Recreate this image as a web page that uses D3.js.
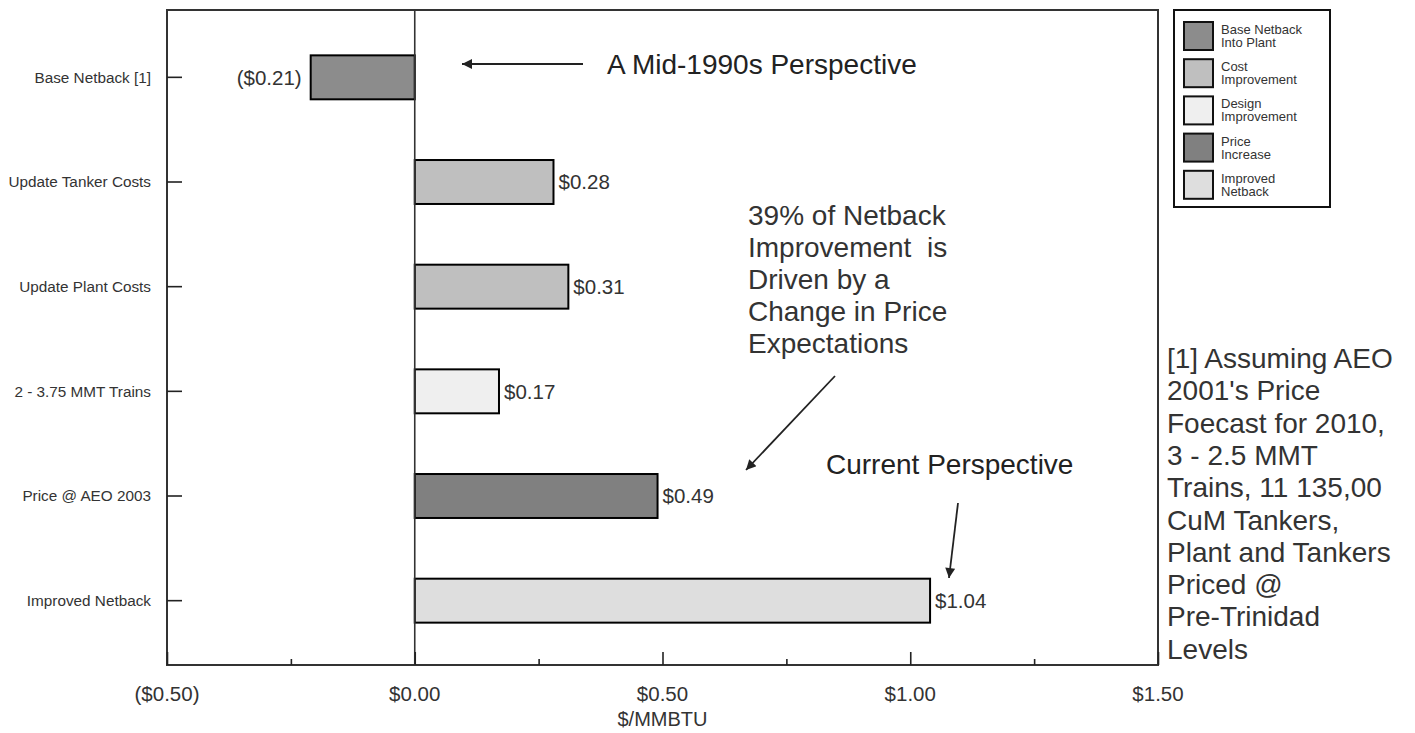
<!DOCTYPE html>
<html>
<head>
<meta charset="utf-8">
<script src="https://cdn.jsdelivr.net/npm/d3@7"></script>
<style>
  html, body { margin: 0; padding: 0; background: #fff; }
  svg { display: block; font-family: "Liberation Sans", Arial, sans-serif; }
</style>
</head>
<body>
<svg id="chart" width="1415" height="733"></svg>
<script>
// ---- data ----
const categories = ["Base Netback [1]", "Update Tanker Costs", "Update Plant Costs", "2 - 3.75 MMT Trains", "Price @ AEO 2003", "Improved Netback"];
const values = [-0.21, 0.28, 0.31, 0.17, 0.49, 1.04];
const valueLabels = ["($0.21)", "$0.28", "$0.31", "$0.17", "$0.49", "$1.04"];
const barGroups = ["Base Netback Into Plant", "Cost Improvement", "Cost Improvement", "Design Improvement", "Price Increase", "Improved Netback"];
const legendKeys = ["Base Netback Into Plant", "Cost Improvement", "Design Improvement", "Price Increase", "Improved Netback"];
const legendLines = [["Base Netback", "Into Plant"], ["Cost", "Improvement"], ["Design", "Improvement"], ["Price", "Increase"], ["Improved", "Netback"]];
const legendColors = ["#8c8c8c", "#bfbfbf", "#efefef", "#808080", "#dedede"];
const xMajorTicks = [-0.5, 0, 0.5, 1.0, 1.5];
const xMinorTicks = [-0.25, 0.25, 0.75, 1.25];
const xTitle = "$/MMBTU";
const noteMid90s = "A Mid-1990s Perspective";
const noteCurrent = "Current Perspective";
const notePrice = ["39% of Netback", "Improvement  is", "Driven by a", "Change in Price", "Expectations"];
const footnote = ["[1] Assuming AEO", "2001's Price", "Foecast for 2010,", "3 - 2.5 MMT", "Trains, 11 135,00", "CuM Tankers,", "Plant and Tankers", "Priced @", "Pre-Trinidad", "Levels"];

// ---- layout ----
const svg = d3.select("#chart");
const plot = { left: 167, right: 1158, top: 10, bottom: 665 };
const textColor = "#333";

const x = d3.scaleLinear().domain([-0.5, 1.5]).range([plot.left, plot.right]);
const y = d3.scaleBand().domain(categories).range([25, 653]).paddingInner(0.58).paddingOuter(0.29);
const color = d3.scaleOrdinal().domain(legendKeys).range(legendColors);

const fmt = v => v < 0 ? "($" + d3.format(".2f")(-v) + ")" : "$" + d3.format(".2f")(v);

// arrow marker
svg.append("defs").append("marker")
  .attr("id", "arrow").attr("viewBox", "0 0 10 10")
  .attr("refX", 10).attr("refY", 5)
  .attr("markerWidth", 15).attr("markerHeight", 10)
  .attr("markerUnits", "userSpaceOnUse")
  .attr("orient", "auto")
  .append("path").attr("d", "M0,0 L10,5 L0,10 Z").attr("fill", "#222");

// frame
svg.append("rect")
  .attr("x", plot.left).attr("y", plot.top)
  .attr("width", plot.right - plot.left).attr("height", plot.bottom - plot.top)
  .attr("fill", "none").attr("stroke", "#333").attr("stroke-width", 2);

// bars
svg.append("g").selectAll("rect").data(values).join("rect")
  .attr("x", d => x(Math.min(0, d)))
  .attr("y", (d, i) => y(categories[i]))
  .attr("width", d => Math.abs(x(d) - x(0)))
  .attr("height", y.bandwidth())
  .attr("fill", (d, i) => color(barGroups[i]))
  .attr("stroke", "#000").attr("stroke-width", 2);

// zero line
svg.append("line")
  .attr("x1", x(0)).attr("x2", x(0))
  .attr("y1", plot.top).attr("y2", plot.bottom)
  .attr("stroke", "#333").attr("stroke-width", 1.6);

// value labels
svg.append("g").selectAll("text").data(values).join("text")
  .attr("x", d => d < 0 ? x(d) - 9 : x(d) + 5)
  .attr("y", (d, i) => y(categories[i]) + y.bandwidth() / 2)
  .attr("dy", "0.35em")
  .attr("text-anchor", d => d < 0 ? "end" : "start")
  .attr("font-size", 20.5).attr("fill", textColor)
  .text((d, i) => valueLabels[i]);

// y axis (ticks pointing inward)
const yAxis = d3.axisRight(y).tickSize(15).tickSizeOuter(0).tickFormat("");
const gy = svg.append("g").attr("transform", `translate(${plot.left},0)`).call(yAxis);
gy.select(".domain").remove();
gy.selectAll(".tick line").attr("stroke", "#222").attr("stroke-width", 1.6);
svg.append("g").selectAll("text").data(categories).join("text")
  .attr("x", 151)
  .attr("y", d => y(d) + y.bandwidth() / 2)
  .attr("dy", "0.35em")
  .attr("text-anchor", "end")
  .attr("font-size", 15.3).attr("fill", textColor)
  .text(d => d);

// x axis
const xAxisMajor = d3.axisTop(x).tickValues(xMajorTicks).tickSize(13).tickFormat("");
const gxM = svg.append("g").attr("transform", `translate(0,${plot.bottom})`).call(xAxisMajor);
gxM.select(".domain").remove();
gxM.selectAll(".tick line").attr("stroke", "#222").attr("stroke-width", 1.6);
const xAxisMinor = d3.axisTop(x).tickValues(xMinorTicks).tickSize(6).tickFormat("");
const gxm = svg.append("g").attr("transform", `translate(0,${plot.bottom})`).call(xAxisMinor);
gxm.select(".domain").remove();
gxm.selectAll(".tick line").attr("stroke", "#222").attr("stroke-width", 1.6);
svg.append("g").selectAll("text").data(xMajorTicks).join("text")
  .attr("x", d => x(d)).attr("y", 701)
  .attr("text-anchor", "middle")
  .attr("font-size", 20.5).attr("fill", textColor)
  .text(d => fmt(d));
svg.append("text")
  .attr("x", (plot.left + plot.right) / 2).attr("y", 726)
  .attr("text-anchor", "middle")
  .attr("font-size", 20).attr("fill", textColor)
  .text(xTitle);

// annotations
svg.append("line")
  .attr("x1", 583).attr("y1", 64).attr("x2", 462).attr("y2", 64)
  .attr("stroke", "#222").attr("stroke-width", 1.8).attr("marker-end", "url(#arrow)");
svg.append("text").attr("x", 607).attr("y", 74)
  .attr("font-size", 28).attr("fill", "#222").text(noteMid90s);

svg.append("g").selectAll("text").data(notePrice).join("text")
  .attr("x", 748).attr("y", (d, i) => 225 + i * 32)
  .attr("font-size", 28).attr("fill", textColor)
  .style("white-space", "pre")
  .text(d => d);
svg.append("line")
  .attr("x1", 835).attr("y1", 376).attr("x2", 746).attr("y2", 470)
  .attr("stroke", "#222").attr("stroke-width", 1.8).attr("marker-end", "url(#arrow)");

svg.append("text").attr("x", 826).attr("y", 474)
  .attr("font-size", 28).attr("fill", "#222").text(noteCurrent);
svg.append("line")
  .attr("x1", 958).attr("y1", 503).attr("x2", 949).attr("y2", 578)
  .attr("stroke", "#222").attr("stroke-width", 1.8).attr("marker-end", "url(#arrow)");

// footnote
svg.append("g").selectAll("text").data(footnote).join("text")
  .attr("x", 1167).attr("y", (d, i) => 368 + i * 32.3)
  .attr("font-size", 28).attr("fill", textColor)
  .text(d => d);

// legend
const lg = svg.append("g");
lg.append("rect").attr("x", 1174).attr("y", 10).attr("width", 156).attr("height", 197)
  .attr("fill", "#fff").attr("stroke", "#111").attr("stroke-width", 2);
const items = lg.selectAll("g.item").data(legendKeys).join("g").attr("class", "item")
  .attr("transform", (d, i) => `translate(1184,${22 + i * 37.2})`);
items.append("rect").attr("width", 29).attr("height", 28)
  .attr("fill", d => color(d)).attr("stroke", "#111").attr("stroke-width", 2);
items.each(function(d, i) {
  const t = d3.select(this).append("text").attr("x", 37).attr("font-size", 13).attr("fill", textColor);
  legendLines[i].forEach((ln, j) => {
    t.append("tspan").attr("x", 37).attr("y", 12 + j * 13).text(ln);
  });
});
</script>
</body>
</html>
